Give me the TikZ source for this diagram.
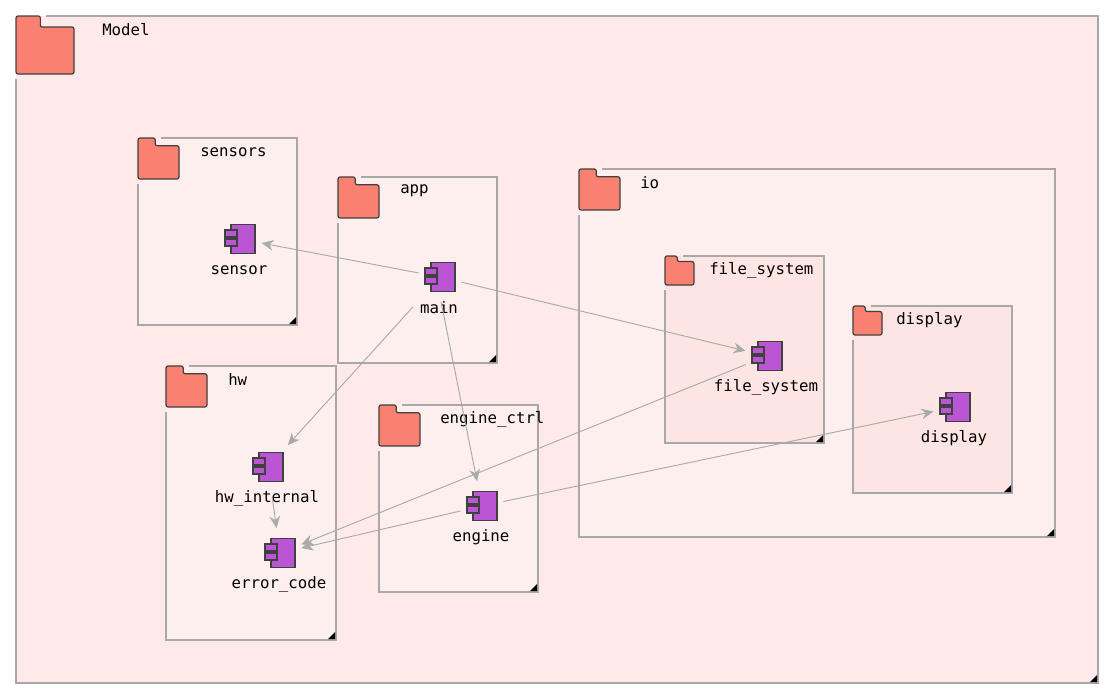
\documentclass[tikz,border=0pt]{standalone}
\usepackage{fontspec}
\setmonofont{DejaVu Sans Mono}
\usetikzlibrary{arrows.meta}
\definecolor{bgA}{HTML}{FFEAE9}
\definecolor{bgB}{HTML}{FDEFEE}
\definecolor{bgC}{HTML}{FDE5E3}
\definecolor{folder}{HTML}{FA8072}
\definecolor{comp}{HTML}{BA55D3}
\definecolor{edge}{HTML}{AAAAAA}
\definecolor{frame}{HTML}{A8A8A8}
\tikzset{
  lbl/.style={font=\ttfamily\fontsize{11.8pt}{14pt}\selectfont, text=black, inner sep=0pt},
  fold/.style={fill=folder, draw=black!75, line width=0.9pt, rounded corners=1.5pt},
  comp/.style={fill=comp, draw=black!75, line width=0.9pt},
  cnode/.style={minimum width=24, minimum height=29, inner sep=0pt},
  dep/.style={draw=edge, line width=0.7pt, -{Stealth[length=9,width=8]}, shorten >=4, shorten <=4},
}
% #1 x1, #2 y1, #3 x2, #4 y2, #5 folder size, #6 label x, #7 label, #8 fill, #9 name
\newcommand{\pkgbox}[9]{%
  \pgfmathsetmacro{\fs}{#5}%
  \pgfmathsetmacro{\tw}{0.42*\fs}%
  \pgfmathsetmacro{\th}{0.19*\fs}%
  \fill[#8] (#1,#2) rectangle (#3,#4);
  \draw[frame, line width=1.6pt] (#1+\tw+6,#2) -- (#3,#2) -- (#3,#4) -- (#1,#4) -- (#1,#2+\fs+5);
  \fill[black] (#3-1,#4-1) -- (#3-1,#4-8) -- (#3-8,#4-1) -- cycle;
  \draw[fold] (#1,#2+\fs) -- (#1,#2) -- (#1+\tw,#2) -- (#1+\tw,#2+\th) -- (#1+\fs,#2+\th) -- (#1+\fs,#2+\fs) -- cycle;
  \node[lbl, anchor=west] (#9) at (#6,#2+14) {#7};
}
% component: #1 name, #2 cx, #3 cy, #4 label
\newcommand{\compo}[4]{%
  \node[cnode] (#1) at (#2,#3) {};
  \draw[comp] (#2-9,#3-14.5) rectangle (#2+15,#3+14.5);
  \draw[comp] (#2-15,#3-9) rectangle (#2-3,#3-2);
  \draw[comp] (#2-15,#3+0) rectangle (#2-3,#3+7);
  \node[lbl] (#1-l) at (#2-1,#3+31) {#4};
}
\begin{document}
\begin{tikzpicture}[x=0.75pt,y=-0.75pt]
\useasboundingbox (0,0) rectangle (1111,696);
\fill[white] (0,0) rectangle (1111,696);
\pkgbox{16}{16}{1098}{683}{58}{102}{Model}{bgA}{pModel}
\pkgbox{138}{138}{297}{325}{41}{200}{sensors}{bgB}{pSensors}
\pkgbox{338}{177}{497}{363}{41}{400}{app}{bgB}{pApp}
\pkgbox{579}{169}{1055}{537}{41}{640}{io}{bgB}{pIo}
\pkgbox{665}{256}{824}{443}{29}{709}{file\_system}{bgC}{pFs}
\pkgbox{853}{306}{1012}{493}{29}{896}{display}{bgC}{pDisp}
\pkgbox{166}{366}{336}{640}{41}{228}{hw}{bgB}{pHw}
\pkgbox{379}{405}{538}{592}{41}{440}{engine\_ctrl}{bgB}{pEng}
\compo{sensor}{240}{239}{sensor}
\compo{main}{440}{277}{main}
\compo{fs}{767}{356}{file\_system}
\compo{disp}{955}{407}{display}
\compo{hwi}{268}{467}{hw\_internal}
\compo{err}{280}{553}{error\_code}
\compo{eng}{482}{506}{engine}
\draw[dep] (main) -- (sensor);
\draw[dep] (main) -- (fs);
\draw[dep, shorten <=12] (main) -- (hwi);
\draw[dep, shorten <=4] (main.south) -- (eng);
\draw[dep, shorten <=8] (hwi) -- (err);
\draw[dep] (fs) -- (err);
\draw[dep] (eng) -- (err);
\draw[dep] (eng) -- (disp);
\end{tikzpicture}
\end{document}
